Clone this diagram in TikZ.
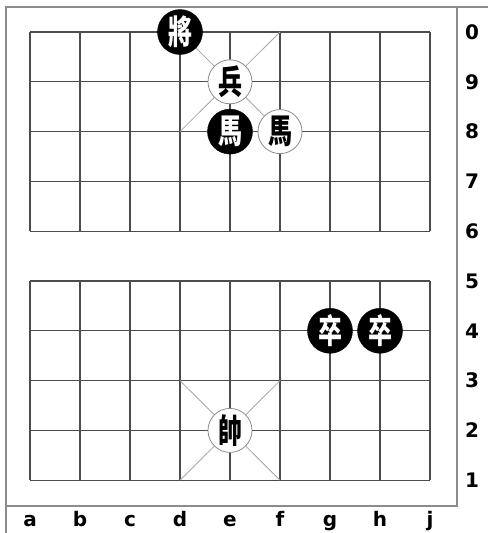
\documentclass[tikz,border=0pt]{standalone}
\usepackage{fontspec}
\newfontfamily\cjk{Noto Sans CJK TC}
\newfontfamily\lab{DejaVu Sans}
\tikzset{
  frameline/.style={draw=black!45, line width=1.4pt},
  gridline/.style={draw=black!70, line width=1.3pt},
  diagline/.style={draw=black!35, line width=0.8pt},
  blackpiece/.style={circle, fill=black, draw=black, minimum size=45pt, inner sep=0pt, text=white, font=\cjk\bfseries\fontsize{30}{30}\selectfont},
  whitepiece/.style={circle, fill=white, draw=black!45, line width=0.8pt, minimum size=44pt, inner sep=0pt, text=black, font=\cjk\bfseries\fontsize{30}{30}\selectfont},
  coordlab/.style={font=\lab\bfseries\fontsize{20}{20}\selectfont, inner sep=0pt}
}
\newcommand{\pc}[1]{\scalebox{0.8}[1.12]{#1}}
\begin{document}
\begin{tikzpicture}[x=1pt,y=-1pt]
\useasboundingbox (0,0) rectangle (488,533);
% frame
\draw[frameline] (6,533) -- (6,7) -- (488,7);
\draw[frameline] (457,7) -- (457,506) -- (6,506);
% grid
\foreach \r in {0,...,9} {
  \draw[gridline] (30,{32+49.8*\r}) -- (430,{32+49.8*\r});
}
\foreach \c in {0,...,8} {
  \draw[gridline] ({30+50*\c},32) -- ({30+50*\c},{32+49.8*4});
  \draw[gridline] ({30+50*\c},{32+49.8*5}) -- ({30+50*\c},{32+49.8*9});
}
% palaces
\draw[diagline] (180,32) -- (280,{32+49.8*2});
\draw[diagline] (280,32) -- (180,{32+49.8*2});
\draw[diagline] (180,{32+49.8*7}) -- (280,{32+49.8*9});
\draw[diagline] (280,{32+49.8*7}) -- (180,{32+49.8*9});
% pieces
\node[blackpiece] (bk) at (180,32) {\pc{將}};
\node[whitepiece] (wp) at (230,{32+49.8}) {\pc{兵}};
\node[blackpiece] (bh) at (230,{32+49.8*2}) {\pc{馬}};
\node[whitepiece] (wh) at (280,{32+49.8*2}) {\pc{馬}};
\node[blackpiece] (bp1) at (330,{32+49.8*6}) {\pc{卒}};
\node[blackpiece] (bp2) at (380,{32+49.8*6}) {\pc{卒}};
\node[whitepiece] (wk) at (230,{32+49.8*8}) {\pc{帥}};
% rank labels
\foreach \lbl [count=\i from 0] in {0,9,8,7,6,5,4,3,2,1} {
  \node[coordlab] (rank\lbl) at (472,{32+49.8*\i}) {\lbl};
}
% file labels
\foreach \lbl [count=\i from 0] in {a,b,c,d,e,f,g,h,j} {
  \node[coordlab, anchor=base] (file\lbl) at ({30+50*\i},526) {\lbl};
}
\end{tikzpicture}
\end{document}
